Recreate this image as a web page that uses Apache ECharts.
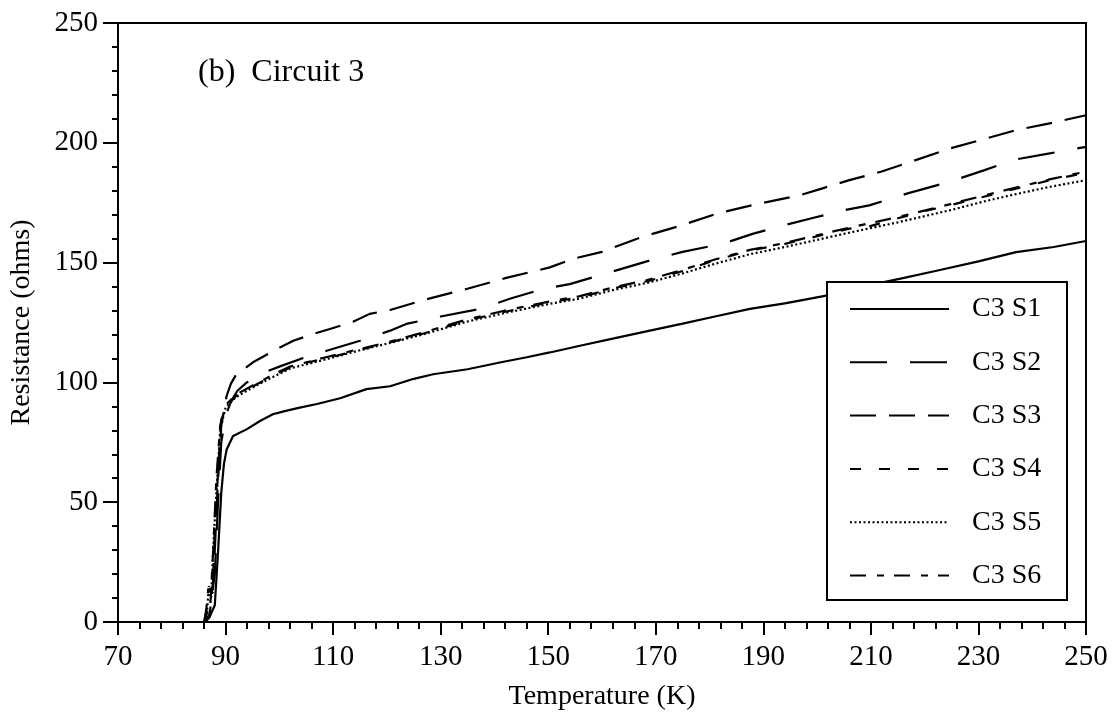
<!DOCTYPE html>
<html>
<head>
<meta charset="utf-8">
<script src="https://cdn.jsdelivr.net/npm/echarts@6/dist/echarts.min.js"></script>
<style>
html,body{margin:0;padding:0;background:#fff;}
#chart{width:1114px;height:719px;}
</style>
</head>
<body>
<div id="chart"></div>
<script>
// ---- data (Temperature K, Resistance ohms) ----
const seriesNames = ['C3 S1', 'C3 S2', 'C3 S3', 'C3 S4', 'C3 S5', 'C3 S6'];
const xTicks = [70, 90, 110, 130, 150, 170, 190, 210, 230, 250];
const yTicks = [0, 50, 100, 150, 200, 250];

const s1 = [[70,0],[80,0],[86.2,0],[87,2],[88,7],[88.6,29],[89.2,54],[89.7,66],[90.2,72],[91.4,77.6],[93.9,80.4],[96.4,83.9],[98.8,86.7],[101,88],[103.8,89.5],[107,91],[111.3,93.4],[116.2,97.2],[120.6,98.4],[125,101.5],[128.6,103.4],[135,105.5],[141,108.3],[146,110.5],[150.3,112.5],[155.9,115.3],[162,118.3],[168.9,121.6],[175,124.5],[181,127.5],[187.5,130.7],[194,133],[201.7,136.2],[208,139.8],[215.3,143.2],[222,146.5],[230,150.5],[237,154.4],[244,156.5],[250,159]];
const s2 = [[70,0],[86,0],[87,3],[88,20],[88.6,50],[89.2,75],[90,86],[91,92],[92.2,96.5],[93.9,99.9],[95.5,102],[97.9,104.8],[100.5,107],[103.8,109.7],[108.8,113.2],[115,117.4],[120.6,121.6],[123.6,124.4],[130,127.5],[137.3,130.7],[143,135],[149,139],[154,141],[160,145],[168.9,150.9],[175,154.5],[182.5,157.9],[188,162],[193.7,165.5],[199,168.5],[204.8,171.8],[209.7,173.9],[217,179],[224.6,183.7],[231,188.5],[237,193.1],[243,195.5],[250,198.3]];
const s3 = [[70,0],[86,0],[87,2],[87.8,20],[88.5,55],[89.2,82],[90.2,94.4],[91,99.5],[92,103.4],[92.4,103.8],[95.1,108.4],[99.5,113.9],[102.6,117.4],[106.3,120.2],[109.4,122.3],[113.7,125.3],[116.8,128.6],[120.6,130.2],[127,134.5],[134.8,139],[142,143.5],[150.3,148],[154.6,151.6],[160,154.5],[167.6,160.8],[174,165],[181.3,170.4],[189,174.5],[196.8,178.1],[201,181],[206,184.4],[212,188],[218,192.5],[224.6,197.6],[231,201.5],[237,205.3],[243,208],[250,211.5]];
const s4 = [[70,0],[86,0],[86.6,4],[87.1,14],[87.6,12],[88,40],[88.6,62],[89.2,84.6],[90.2,90.2],[92,94.4],[95.8,99.2],[99,103],[102,106.2],[103.8,107.6],[108.1,109.7],[114.3,113.2],[119.3,116],[120.6,116.7],[127,120.5],[134.8,125.8],[142,129.5],[150.3,133.4],[155.9,135.5],[162,139.2],[168.9,142.5],[175,146.5],[181,151],[187.5,155],[194,157.8],[200,161],[206,164.2],[209.2,164.8],[215,168.5],[220,171.5],[224.6,173.9],[231,177.5],[237,180.9],[243,184.2],[250,187.5]];
const s5 = [[70,0],[86,0],[86.5,3],[86.9,15],[87.3,10],[87.8,35],[88.4,58],[89,80],[90,89.5],[92,94],[95.8,98.8],[99,102.5],[102,105.8],[108.1,109.3],[114.3,113],[120.6,116.5],[127,120.2],[134.8,125.3],[142,129],[150.3,132.8],[155.9,135],[162,138.5],[168.9,141.8],[175,145.5],[181,149.5],[187.5,153.5],[194,156.5],[200,159.5],[206,162.5],[215,166.8],[224.6,171.8],[231,175.5],[237,178.6],[243,181.5],[250,184.4]];
const s6 = [[70,0],[86,0],[86.4,5],[86.8,14],[87.2,8],[87.7,30],[88.3,60],[89,82],[90,90.5],[92,95],[95.8,99.6],[99,103.4],[102,106.6],[108.1,110.2],[114.3,113.6],[120.6,117],[127,121],[134.8,126.2],[142,130],[150.3,133.8],[155.9,136],[162,139.6],[168.9,143],[175,147],[181,151.3],[187.5,155.3],[194,158.2],[200,161.4],[206,164.6],[215,169],[224.6,174.3],[231,178],[237,181.3],[243,184.6],[250,188]];
const seriesData = [s1, s2, s3, s4, s5, s6];

// ---- styles ----
const FONT = '"Liberation Serif", "Times New Roman", serif';
const dashes = ['solid', [37, 23], [26, 13], [11, 18], [2, 2.5], [16, 11, 7, 10]];

const chart = echarts.init(document.getElementById('chart'), null, {renderer: 'canvas'});

const series = seriesNames.map((name, i) => ({
  name: name,
  type: 'line',
  data: seriesData[i],
  symbol: 'none',
  showSymbol: false,
  smooth: false,
  z: 3,
  lineStyle: {color: '#000', width: 2.2, type: dashes[i]},
  itemStyle: {color: '#000'},
  emphasis: {disabled: true}
}));

chart.setOption({
  animation: false,
  backgroundColor: '#fff',
  grid: {left: 118, right: 28, top: 23, bottom: 97, show: true, borderColor: '#000', borderWidth: 2, backgroundColor: 'transparent'},
  xAxis: {
    type: 'value', min: xTicks[0], max: xTicks[xTicks.length - 1], interval: 20,
    name: 'Temperature (K)', nameLocation: 'middle', nameGap: 61,
    nameTextStyle: {fontFamily: FONT, fontSize: 28, color: '#000'},
    axisLine: {show: true, lineStyle: {color: '#000', width: 2}},
    axisTick: {show: true, inside: false, length: 13, lineStyle: {color: '#000', width: 2}},
    minorTick: {show: true, splitNumber: 5, length: 7, lineStyle: {color: '#000', width: 2}},
    splitLine: {show: false},
    axisLabel: {fontFamily: FONT, fontSize: 29, color: '#000', margin: 21, showMinLabel: true, showMaxLabel: true}
  },
  yAxis: {
    type: 'value', min: yTicks[0], max: yTicks[yTicks.length - 1], interval: 50,
    name: 'Resistance (ohms)', nameLocation: 'middle', nameGap: 82,
    nameTextStyle: {fontFamily: FONT, fontSize: 28, color: '#000'},
    axisLine: {show: true, lineStyle: {color: '#000', width: 2}},
    axisTick: {show: true, inside: false, length: 15, lineStyle: {color: '#000', width: 2}},
    minorTick: {show: true, splitNumber: 5, length: 6, lineStyle: {color: '#000', width: 2}},
    splitLine: {show: false},
    axisLabel: {fontFamily: FONT, fontSize: 29, color: '#000', margin: 20, showMinLabel: true, showMaxLabel: true}
  },
  legend: {
    show: true,
    orient: 'vertical',
    left: 849,
    top: 295,
    padding: 0,
    itemWidth: 99,
    itemHeight: 28,
    itemGap: 25.3,
    data: seriesNames,
    selectedMode: false,
    itemStyle: {opacity: 0, color: 'transparent', borderWidth: 0},
    textStyle: {fontFamily: FONT, fontSize: 28, color: '#000', lineHeight: 28, padding: [0, 0, 0, 18]},
    z: 10
  },
  graphic: [
    {type: 'rect', z: 5, shape: {x: 827, y: 282, width: 240, height: 318},
     style: {fill: '#fff', stroke: '#000', lineWidth: 2}},
    {type: 'text', z: 6, left: 198, top: 57,
     style: {text: '(b)  Circuit 3', font: '32px ' + FONT, fill: '#000'}}
  ],
  series: series
});
</script>
</body>
</html>
